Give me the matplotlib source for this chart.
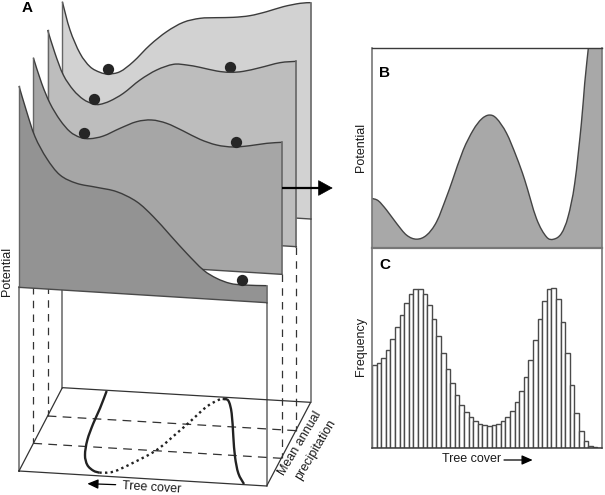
import numpy as np
import matplotlib
matplotlib.use("Agg")
import matplotlib.pyplot as plt
from matplotlib.path import Path
from matplotlib.patches import PathPatch

plt.rcParams["font.family"] = ["Liberation Sans", "DejaVu Sans"]

# panel A is laid out in a 1815 x 1485 grid (3x the output size)
SHEET_CURVES = [
    [(187, 5), (210, 90), (240, 160), (270, 200), (300, 217), (325, 222), (360, 215), (400, 185),
     (450, 135), (500, 95), (550, 67), (600, 55), (650, 53), (700, 52), (750, 47), (800, 35),
     (850, 20), (900, 10), (932, 8)],
    [(143, 90), (165, 160), (190, 225), (220, 270), (250, 298), (280, 312), (300, 313), (330, 303),
     (370, 280), (420, 240), (470, 210), (520, 193), (560, 195), (600, 202), (650, 213), (690, 217),
     (730, 214), (780, 203), (840, 188), (889, 184)],
    [(100, 173), (125, 250), (150, 310), (180, 360), (210, 395), (240, 412), (270, 416), (310, 408),
     (360, 385), (410, 365), (455, 360), (500, 370), (550, 393), (600, 418), (650, 435), (700, 441),
     (750, 437), (800, 430), (845, 427)],
    [(57, 258), (80, 335), (105, 410), (140, 475), (180, 525), (230, 550), (290, 562), (350, 575),
     (410, 605), (460, 650), (510, 705), (560, 760), (610, 810), (650, 835), (690, 850), (730, 855),
     (800, 857)],
]
SHEET_BOTTOMS = [[(932, 657), (187, 611)], [(889, 740), (143, 694)],
                 [(845, 823), (100, 777)], [(800, 908), (57, 862)]]
SHEET_COLORS = ["#d2d2d2", "#bdbdbd", "#a6a6a6", "#939393"]
BALLS_X = [324, 691, 281, 252, 708, 725]
BALLS_Y = [206, 200, 297, 398, 427, 840]

FLOOR = [(57, 1413), (800, 1458), (932, 1207), (187, 1163), (57, 1413)]
SOLID_VERTS = [(57, 862, 1413), (187, 611, 1163), (800, 908, 1458), (932, 657, 1207)]
DASH_VERTS = [(100, 777, 1330), (143, 694, 1248), (845, 823, 1375), (889, 740, 1292)]
DASH_ACROSS = [[(143, 1248), (889, 1292)], [(100, 1330), (845, 1375)]]

STABLE_LOW = [(320, 1173), (300, 1225), (280, 1270), (262, 1320), (255, 1365), (262, 1395), (280, 1412), (298, 1418)]
UNSTABLE = [(298, 1418), (340, 1415), (400, 1388), (470, 1350), (530, 1300), (570, 1265), (620, 1220), (660, 1198), (680, 1198)]
STABLE_HIGH = [(668, 1197), (685, 1202), (695, 1240), (700, 1310), (705, 1370), (715, 1420), (732, 1452)]

# panel B potential, x 0-691, y 0-598
POT_X = [0, 19, 44, 74, 104, 134, 164, 194, 224, 242, 274, 304, 329, 352, 374, 404, 434, 459, 494, 524, 546, 569, 589, 609, 629, 639, 650]
POT_Y = [147, 140, 112, 72, 37, 25, 37, 77, 152, 202, 292, 352, 385, 397, 387, 343, 272, 202, 87, 32, 25, 42, 92, 192, 372, 492, 598]

# panel C histogram, 50 bins
FREQ = [248, 253, 268, 293, 325, 361, 398, 435, 462, 477, 477, 461, 428, 385, 335, 284, 235, 194, 157, 128,
        107, 91, 80, 72, 67, 66, 67, 72, 80, 93, 111, 136, 169, 211, 264, 323, 385, 440, 475, 480,
        445, 376, 283, 187, 105, 50, 19, 5, 1, 0]


def smooth_path(pts):
    # catmull-rom through the points, as bezier segments
    pts = np.array(pts, dtype=float)
    verts = [pts[0]]
    codes = [Path.MOVETO]
    for i in range(len(pts) - 1):
        p0 = pts[max(i - 1, 0)]
        p1, p2 = pts[i], pts[i + 1]
        p3 = pts[min(i + 2, len(pts) - 1)]
        verts += [p1 + (p2 - p0) / 6, p2 - (p3 - p1) / 6, p2]
        codes += [Path.CURVE4] * 3
    return verts, codes


fig = plt.figure(figsize=(6.05, 4.95), dpi=100)
fig.patch.set_facecolor("white")

ax = fig.add_axes([0, 0, 1, 1])
ax.set_xlim(0, 1815)
ax.set_ylim(1485, 0)
ax.axis("off")
ax.set_zorder(5)

# frame and floor
EDGE = "#4a4a4a"
TXT = "#1a1a1a"
for x, y0, y1 in SOLID_VERTS:
    ax.plot([x, x], [y0, y1], color="#666666", lw=1.1, zorder=1)
for x, y0, y1 in DASH_VERTS:
    ax.plot([x, x], [y0, y1], color="#333333", lw=0.9, dashes=(6, 5), zorder=1)
for seg in DASH_ACROSS:
    ax.plot(*zip(*seg), color="#333333", lw=0.9, dashes=(7, 5), zorder=1)
ax.plot(*zip(*FLOOR), color="#333333", lw=0.9, zorder=1)

for pts in [STABLE_LOW, STABLE_HIGH]:
    v, k = smooth_path(pts)
    ax.add_patch(PathPatch(Path(v, k), fc="none", ec="#222222", lw=1.7, zorder=2, capstyle="butt"))
v, k = smooth_path(UNSTABLE)
ax.add_patch(PathPatch(Path(v, k), fc="none", ec="#222222", lw=1.7, ls=(0, (1, 1.4)), zorder=2))

# sheets, back to front
for i, (curve, bottom, col) in enumerate(zip(SHEET_CURVES, SHEET_BOTTOMS, SHEET_COLORS)):
    v, k = smooth_path(curve)
    v = v + [np.array(p, dtype=float) for p in bottom] + [np.array(curve[0], dtype=float)]
    k = k + [Path.LINETO] * 3
    z = 3 + i
    ax.add_patch(PathPatch(Path(v, k), fc=col, ec="none", zorder=z))
    v2, k2 = smooth_path(curve)
    ax.add_patch(PathPatch(Path(v2, k2), fc="none", ec="#3c3c3c", lw=1.0, zorder=z))
    xr, xl = bottom[0][0], bottom[1][0]
    ax.plot([xl, xl], [curve[0][1], bottom[1][1]], color="#666666", lw=1.0, zorder=z)
    ax.plot([xr, xr], [curve[-1][1], bottom[0][1]], color="#666666", lw=1.2, zorder=z)
    ax.plot(*zip(*bottom), color=EDGE, lw=1.0, zorder=z)

ax.scatter(BALLS_X[:2], BALLS_Y[:2], s=66, color="#262626", zorder=3.5, linewidths=0)
ax.scatter(BALLS_X[2:3], BALLS_Y[2:3], s=66, color="#262626", zorder=4.5, linewidths=0)
ax.scatter(BALLS_X[3:5], BALLS_Y[3:5], s=66, color="#262626", zorder=5.5, linewidths=0)
ax.scatter(BALLS_X[5:], BALLS_Y[5:], s=66, color="#262626", zorder=6.5, linewidths=0)

# big arrow to panel B
ax.plot([845, 960], [564, 564], color="black", lw=1.6, zorder=8, solid_capstyle="butt")
ax.annotate("", xy=(998, 564), xytext=(950, 564), zorder=8,
            arrowprops=dict(arrowstyle="-|>,head_length=0.6,head_width=0.33", color="black",
                            lw=0.5, shrinkA=0, shrinkB=0, mutation_scale=16))
ax.annotate("", xy=(262, 1451), xytext=(347, 1454), zorder=8,
            arrowprops=dict(arrowstyle="-|>,head_length=0.5,head_width=0.22", color="black",
                            lw=0.9, shrinkA=0, shrinkB=0, mutation_scale=13))
ax.annotate("", xy=(1598, 1380), xytext=(1512, 1380), zorder=8,
            arrowprops=dict(arrowstyle="-|>,head_length=0.5,head_width=0.22", color="black",
                            lw=0.9, shrinkA=0, shrinkB=0, mutation_scale=13))

ax.text(80, 25, "A", fontsize=11, fontweight="bold", ha="center", va="center", zorder=9)
ax.text(1155, 220, "B", fontsize=11, fontweight="bold", ha="center", va="center", zorder=9)
ax.text(1155, 795, "C", fontsize=11, fontweight="bold", ha="center", va="center", zorder=9)
ax.text(20, 815, "Potential", fontsize=9, color=TXT, rotation=90, ha="center", va="center", zorder=9)
ax.text(1083, 441, "Potential", fontsize=9, color=TXT, rotation=90, ha="center", va="center", zorder=9)
ax.text(1083, 1040, "Frequency", fontsize=9, color=TXT, rotation=90, ha="center", va="center", zorder=9)
ax.text(456, 1462, "Tree cover", fontsize=9, color=TXT, rotation=-3.5, ha="center", va="center",
        rotation_mode="anchor", zorder=9)
ax.text(1415, 1376, "Tree cover", fontsize=9, color=TXT, ha="center", va="center", zorder=9)
ax.text(900, 1330, "Mean annual", fontsize=9, color=TXT, rotation=59, ha="center", va="center",
        rotation_mode="anchor", zorder=9)
ax.text(947, 1350, "precipitation", fontsize=9, color=TXT, rotation=59, ha="center", va="center",
        rotation_mode="anchor", zorder=9)

# panel B
W, H = 605.0, 495.0
axb = fig.add_axes([372 / W, 1 - 247.5 / H, 230 / W, 199.5 / H])
v, k = smooth_path(list(zip(POT_X, POT_Y)))
vf = v + [np.array((691.0, 598.0)), np.array((691.0, 0.0)), np.array((0.0, 0.0)), v[0]]
axb.add_patch(PathPatch(Path(vf, k + [Path.LINETO] * 4), fc="#a8a8a8", ec="none"))
axb.add_patch(PathPatch(Path(v, k), fc="none", ec="#444444", lw=1.0))
axb.set_xlim(0, 691)
axb.set_ylim(0, 598)
axb.set_xticks([])
axb.set_yticks([])
for side, sp in axb.spines.items():
    sp.set_color("#3a3a3a" if side == "top" else "#777777")
    sp.set_linewidth(1.0 if side == "top" else 1.2)
axb.spines["bottom"].set_linewidth(1.6)

# panel C
axc = fig.add_axes([372 / W, 1 - 447.7 / H, 230 / W, 200 / H])
bins = np.arange(len(FREQ))
axc.bar(bins, FREQ, width=1.0, align="edge", color="white", edgecolor="#4a4a4a", linewidth=1.0)
axc.set_xlim(0, len(FREQ))
axc.set_ylim(0, 600)
axc.set_xticks([])
axc.set_yticks([])
axc.patch.set_alpha(0)
axc.spines["top"].set_visible(False)
for side in ["left", "right"]:
    axc.spines[side].set_color("#777777")
    axc.spines[side].set_linewidth(1.2)
axc.spines["bottom"].set_color("#3a3a3a")
axc.spines["bottom"].set_linewidth(1.1)

fig.savefig("out.png", dpi=100)
